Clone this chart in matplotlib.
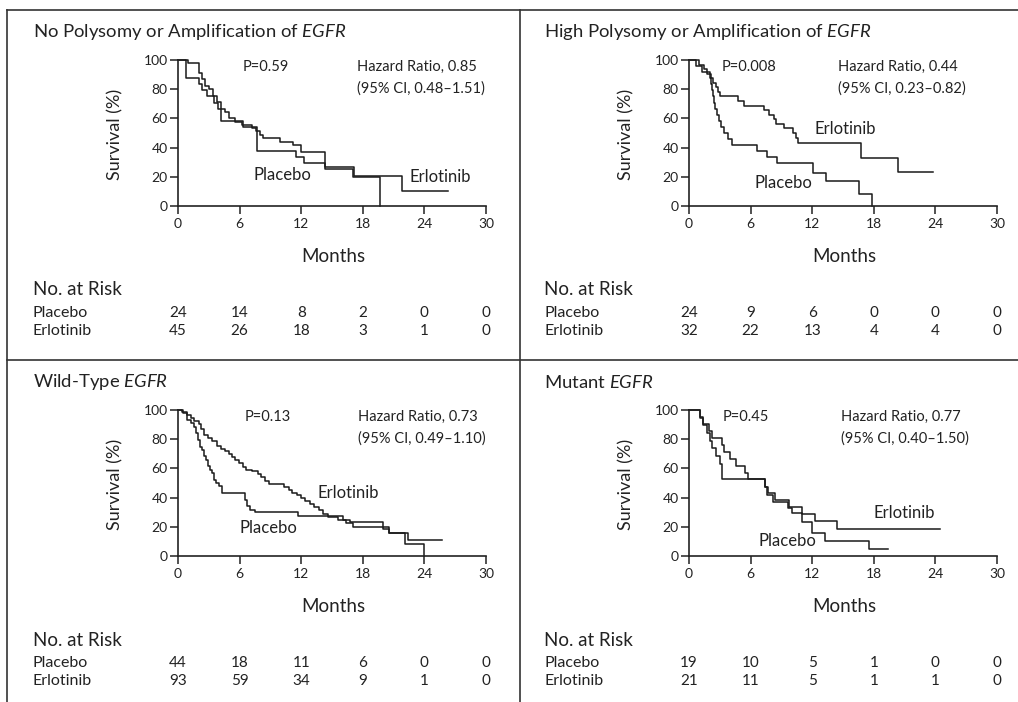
import matplotlib
matplotlib.use("Agg")
import matplotlib.pyplot as plt
from matplotlib.lines import Line2D
from matplotlib.transforms import blended_transform_factory

plt.rcParams["font.family"] = ["Lato", "DejaVu Sans"]
plt.rcParams["mathtext.fontset"] = "custom"
plt.rcParams["mathtext.rm"] = "Lato"
plt.rcParams["mathtext.it"] = "Lato:italic"

INK = "#222222"

titles = [
    r"No Polysomy or Amplification of $\mathit{EGFR}$",
    r"High Polysomy or Amplification of $\mathit{EGFR}$",
    r"Wild-Type $\mathit{EGFR}$",
    r"Mutant $\mathit{EGFR}$",
]
p_values = ["P=0.59", "P=0.008", "P=0.13", "P=0.45"]
hazard_ratios = ["Hazard Ratio, 0.85", "Hazard Ratio, 0.44", "Hazard Ratio, 0.73", "Hazard Ratio, 0.77"]
conf_ints = ["(95% CI, 0.48\u20131.51)", "(95% CI, 0.23\u20130.82)", "(95% CI, 0.49\u20131.10)", "(95% CI, 0.40\u20131.50)"]
month_ticks = [0, 6, 12, 18, 24, 30]
surv_ticks = [0, 20, 40, 60, 80, 100]

# survival curves, months / percent (step after each time)
p1_plc_t = [0, 0.8, 2.0, 2.3, 2.8, 3.5, 3.9, 4.2, 6.3, 7.7, 11.5, 12.3, 14.3, 17.0, 19.7, 19.7]
p1_plc_s = [100, 87.5, 83.3, 79.2, 75, 70.8, 66.7, 58.3, 54.2, 37.5, 33.3, 29.2, 25, 20, 0, 0]
p1_erl_t = [0, 1.0, 2.0, 2.3, 2.6, 3.0, 3.4, 3.8, 4.2, 4.6, 5.0, 5.6, 6.2, 7.2, 7.6, 8.0, 8.3, 9.9, 11.2, 12.0, 14.3, 17.1, 21.8, 26.3]
p1_erl_s = [100, 97.8, 91.1, 86.7, 82.2, 80, 75.6, 71.1, 66.7, 64.4, 60, 57.8, 55.6, 53.3, 51.1, 48.9, 46.3, 44, 41.8, 37.2, 27, 20.4, 10.2, 10.2]

p2_plc_t = [0, 0.7, 1.3, 2.0, 2.1, 2.2, 2.3, 2.4, 2.5, 2.7, 2.9, 3.1, 3.4, 3.8, 4.2, 6.6, 7.6, 8.6, 12.1, 13.3, 16.6, 17.8, 17.8]
p2_plc_s = [100, 95.8, 91.7, 87.5, 83.3, 79.2, 75, 70.8, 66.7, 62.5, 58.3, 54.2, 50, 45.8, 41.7, 37.5, 33.3, 29.2, 22.5, 16.9, 8.4, 0, 0]
p2_erl_t = [0, 1.0, 1.5, 1.8, 2.1, 2.3, 2.6, 2.8, 3.0, 4.8, 5.4, 7.3, 7.8, 8.3, 8.5, 9.3, 10.1, 10.4, 10.6, 16.8, 20.4, 23.8]
p2_erl_s = [100, 96.9, 93.8, 90.6, 87.5, 84.4, 81.3, 78.1, 75, 71.9, 68.8, 65.6, 62.5, 59.4, 56.3, 53.1, 50, 46.9, 42.9, 33, 23.2, 23.2]

p3_plc_t = [0, 0.5, 0.9, 1.3, 1.6, 1.8, 1.9, 2.1, 2.3, 2.5, 2.7, 2.9, 3.1, 3.3, 3.5, 3.7, 4.0, 4.3, 6.5, 6.7,
            7.0, 7.5, 11.7, 16.1, 16.4, 17.0, 20.6, 22.1, 24.0, 24.0]
p3_plc_s = [100, 97.7, 93.2, 90.9, 88.6, 84.1, 79.5, 75, 72.7, 68.2, 65.9, 61.4, 59.1, 56.8, 52.3, 50, 47.7, 43.2, 38.6, 34.1,
            31.8, 30, 27.5, 24.8, 22.5, 20.2, 15.5, 8.5, 0, 0]
p3_erl_t = [0, 0.4, 0.9, 1.3, 1.6, 2.0, 2.2, 2.5, 2.9, 3.3, 3.8, 4.2, 4.6, 5.0, 5.3, 5.6, 5.9, 6.3, 6.6, 7.2,
            7.8, 8.1, 8.5, 8.9, 10.3, 10.8, 11.1, 11.6, 12.0, 12.4, 12.9, 13.2, 13.7, 14.1, 14.6, 15.6, 16.8, 20.0,
            20.6, 22.4, 25.7]
p3_erl_s = [100, 98.9, 96.8, 94.6, 92.5, 90.3, 87.1, 82.8, 80.6, 78.5, 75.3, 73.1, 72, 69.9, 67.7, 65.6, 63.4, 61.3, 59.1, 58,
            55.9, 53.8, 51.6, 49.5, 47.3, 45.2, 43, 41.9, 39.8, 37.6, 35.5, 33.3, 31.2, 29, 26.9, 24.7, 23, 18.5,
            15.5, 11, 11]

p4_plc_t = [0, 1.1, 1.4, 1.8, 2.0, 2.2, 2.6, 3.0, 3.2, 7.4, 7.6, 8.2, 9.6, 10.0, 11.0, 12.0, 13.2, 17.5, 19.4]
p4_plc_s = [100, 94.7, 89.5, 84.2, 78.9, 73.7, 68.4, 63.2, 52.6, 47.4, 42.1, 36.8, 33, 29.5, 23.5, 16, 10.5, 4.6, 4.6]
p4_erl_t = [0, 1.1, 1.4, 1.9, 2.2, 3.2, 3.4, 4.0, 4.6, 5.5, 5.7, 7.4, 7.7, 8.4, 9.7, 11.0, 12.3, 14.4, 24.4]
p4_erl_s = [100, 95.2, 90.5, 85.7, 81, 76.2, 71.4, 66.7, 61.9, 57.1, 52.4, 47.6, 42.9, 38.1, 33.3, 28.6, 23.8, 18.5, 18.5]

# numbers at risk at 0, 6, ..., 30 months
p1_plc_risk = [24, 14, 8, 2, 0, 0]
p1_erl_risk = [45, 26, 18, 3, 1, 0]
p2_plc_risk = [24, 9, 6, 0, 0, 0]
p2_erl_risk = [32, 22, 13, 4, 4, 0]
p3_plc_risk = [44, 18, 11, 6, 0, 0]
p3_erl_risk = [93, 59, 34, 9, 1, 0]
p4_plc_risk = [19, 10, 5, 1, 0, 0]
p4_erl_risk = [21, 11, 5, 1, 1, 0]

# curve label positions (months, percent)
plc_label_pos = [(10.2, 21), (9.2, 16), (8.8, 19), (9.6, 10)]
erl_label_pos = [(25.5, 20), (15.2, 53), (16.6, 43), (21.0, 29.5)]
p_x = [6.3, 3.2, 6.5, 3.3]
hr_x = [17.4, 14.5, 17.5, 14.8]

panels = [
    (p1_plc_t, p1_plc_s, p1_erl_t, p1_erl_s, p1_plc_risk, p1_erl_risk),
    (p2_plc_t, p2_plc_s, p2_erl_t, p2_erl_s, p2_plc_risk, p2_erl_risk),
    (p3_plc_t, p3_plc_s, p3_erl_t, p3_erl_s, p3_plc_risk, p3_erl_risk),
    (p4_plc_t, p4_plc_s, p4_erl_t, p4_erl_s, p4_plc_risk, p4_erl_risk),
]
offsets = [(0, 0), (511, 0), (0, 350), (511, 350)]

W, H = 1018, 702
fig = plt.figure(figsize=(W / 100, H / 100), dpi=100)


def fx(px):
    return px / W


def fy(py):
    return 1 - py / H


# frame lines
for xs, ys in [([7, W], [10, 10]), ([7, 7], [10, H]), ([520, 520], [10, H]), ([7, W], [360, 360])]:
    fig.add_artist(Line2D([fx(x) for x in xs], [fy(y) for y in ys], color="#333333", lw=1.2))

for i, (pt, ps, et, es, prisk, erisk) in enumerate(panels):
    dx, dy = offsets[i]
    ax = fig.add_axes([fx(178 + dx), fy(206 + dy), 308 / W, 146 / H])
    ax.step(pt, ps, where="post", color="#1a1a1a", lw=1.1, clip_on=False)
    ax.step(et, es, where="post", color="#1a1a1a", lw=1.1, clip_on=False)
    ax.set_xlim(0, 30)
    ax.set_ylim(0, 100)
    ax.set_xticks(month_ticks)
    ax.set_yticks(surv_ticks)
    for s in ["top", "right"]:
        ax.spines[s].set_visible(False)
    for s in ["left", "bottom"]:
        ax.spines[s].set_linewidth(1.2)
        ax.spines[s].set_color(INK)
    ax.tick_params(direction="out", length=6, width=1.1, colors=INK, labelsize=10)
    ax.tick_params(axis="x", pad=3)
    ax.tick_params(axis="y", pad=1.5)
    ax.patch.set_alpha(0)

    ax.text(p_x[i], 95, p_values[i], fontsize=10.5, color=INK, va="center", ha="left")
    ax.text(hr_x[i], 95, hazard_ratios[i], fontsize=10.5, color=INK, va="center", ha="left")
    ax.text(hr_x[i], 80.5, conf_ints[i], fontsize=10.5, color=INK, va="center", ha="left")
    ax.text(*plc_label_pos[i], "Placebo", fontsize=12, color=INK, va="center", ha="center")
    ax.text(*erl_label_pos[i], "Erlotinib", fontsize=12, color=INK, va="center", ha="center")

    fig.text(fx(33 + dx), fy(32 + dy), titles[i], fontsize=13.3, color=INK, va="center", ha="left")
    fig.text(fx(115 + dx), fy(134 + dy), "Survival (%)", fontsize=13, color=INK, rotation=90,
             va="center", ha="center")
    fig.text(fx(333 + dx), fy(257 + dy), "Months", fontsize=13.5, color=INK, va="center", ha="center")
    fig.text(fx(33 + dx), fy(290 + dy), "No. at Risk", fontsize=13.5, color=INK, va="center", ha="left")
    fig.text(fx(33 + dx), fy(313 + dy), "Placebo", fontsize=11.5, color=INK, va="center", ha="left")
    fig.text(fx(33 + dx), fy(331 + dy), "Erlotinib", fontsize=11.5, color=INK, va="center", ha="left")

    tr = blended_transform_factory(ax.transData, fig.transFigure)
    for m, a, b in zip(month_ticks, prisk, erisk):
        ax.text(m, fy(313 + dy), str(a), transform=tr, fontsize=11, color=INK, va="center", ha="center")
        ax.text(m, fy(331 + dy), str(b), transform=tr, fontsize=11, color=INK, va="center", ha="center")

fig.savefig("out.png", dpi=100, facecolor="white")
